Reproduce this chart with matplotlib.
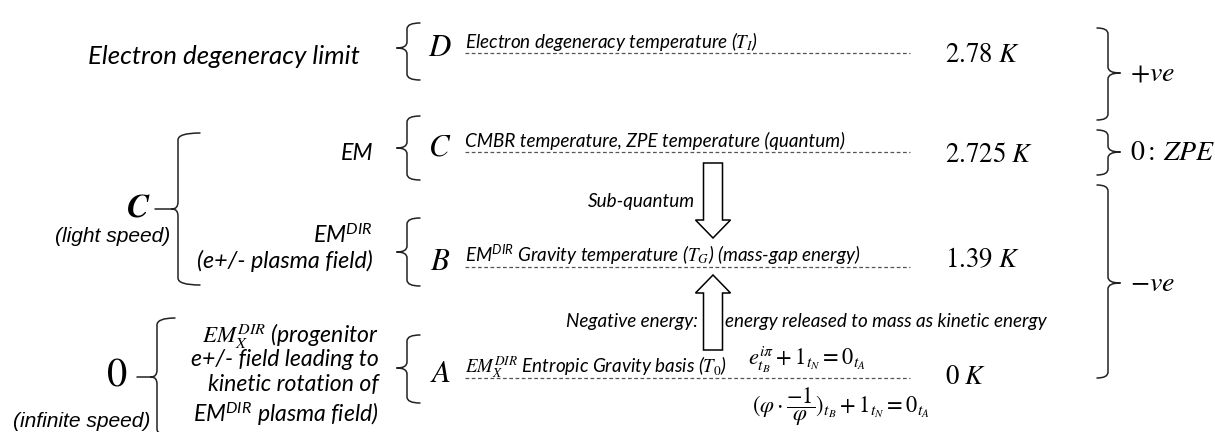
import matplotlib.pyplot as plt
from matplotlib.path import Path
from matplotlib.patches import PathPatch, FancyArrow

plt.rcParams['mathtext.fontset'] = 'stix'

# energy levels, top to bottom
level_letters = ['D', 'C', 'B', 'A']
level_labels = [
    r'Electron degeneracy temperature ($T_I$)',
    'CMBR temperature, ZPE temperature (quantum)',
    r'EM$^{\mathregular{DIR}}$ Gravity temperature ($T_G$) (mass-gap energy)',
    r'$EM_X^{DIR}$ Entropic Gravity basis ($T_0$)',
]
temperatures = [2.78, 2.725, 1.39, 0]

# field description on the left of each level
field_lines = [
    ['Electron degeneracy limit'],
    ['EM'],
    [r'EM$^{\mathregular{DIR}}$', '(e+/- plasma field)'],
    [r'$EM_X^{DIR}$ (progenitor', 'e+/- field leading to',
     'kinetic rotation of', r'EM$^{\mathregular{DIR}}$ plasma field)'],
]
speed_symbols = ['C', '0']
speed_labels = ['(light speed)', '(infinite speed)']
sign_labels = [r'$+ve$', r'$0{:}\,ZPE$', r'$-ve$']

flow_labels = ['Sub-quantum', 'Negative energy:',
               'energy released to mass as kinetic energy']
equations = [r'$e^{i\pi}_{t_B} + 1_{t_N} = 0_{t_A}$',
             r'$(\varphi \cdot \dfrac{-1}{\varphi})_{t_B} + 1_{t_N} = 0_{t_A}$']

# layout (pixels, y down)
level_y = [53, 152, 267, 378]
temp_y = [55, 155, 260, 377]
field_y = [[57], [153], [235, 261], [336, 360, 385, 414]]
field_x = [360, 373, 373, 379]
small_braces = [(23, 80, 48), (116, 180, 148), (218, 286, 252), (335, 403, 368)]
sign_braces = [(28, 120, 73), (130, 175, 152), (185, 378, 283)]

fig = plt.figure(figsize=(12.15, 4.32), dpi=100)
ax = fig.add_axes([0, 0, 1, 1])
ax.set_xlim(0, 1215)
ax.set_ylim(432, 0)
ax.axis('off')
renderer = fig.canvas.get_renderer()


def size_for(s, width, **kw):
    t = ax.text(0, 0, s, fontsize=10, **kw)
    w = t.get_window_extent(renderer).width
    t.remove()
    return 10 * width / w


def brace(x, y0, y1, ytip, d, arm, tip, ext=0, r=6, lw=1.1):
    # d=1 -> "{" (tip to the left), d=-1 -> "}"
    verts = [(x + d * arm, y0), (x, y0), (x, y0 + r),
             (x, ytip - r), (x, ytip), (x - d * tip, ytip),
             (x - d * (tip + ext), ytip),
             (x - d * tip, ytip), (x, ytip), (x, ytip + r),
             (x, y1 - r), (x, y1), (x + d * arm, y1)]
    codes = [Path.MOVETO, Path.CURVE3, Path.CURVE3,
             Path.LINETO, Path.CURVE3, Path.CURVE3,
             Path.LINETO,
             Path.MOVETO, Path.CURVE3, Path.CURVE3,
             Path.LINETO, Path.CURVE3, Path.CURVE3]
    ax.add_patch(PathPatch(Path(verts, codes), fc='none', ec='#222222',
                           lw=lw, capstyle='round'))


sans = dict(family='Lato', style='italic', color='black')
label_fs = size_for(level_labels[1], 380, **sans)
left_fs = size_for(field_lines[0][0], 272, **sans)
mid_fs = size_for(field_lines[2][1], 176, **sans)
block_fs = size_for(field_lines[3][2], 171, **sans)
big_fs = size_for(f'${temperatures[1]:g}\\ K$', 90)
sign_fs = size_for(sign_labels[0], 47)
eq_fs = size_for(equations[0], 119)

for letter, label, temp, y, ty in zip(level_letters, level_labels,
                                      temperatures, level_y, temp_y):
    ax.plot([465, 910], [y, y], ls=(0, (3, 2)), color='#555555', lw=0.9)
    ax.text(440, y - 5, f'${letter}$', fontsize=big_fs * 1.15, ha='center', va='center')
    ax.text(465, y - 5, label, fontsize=label_fs, va='baseline', **sans)
    ax.text(945, ty, f'${temp:g}\\ K$', fontsize=big_fs, va='center')

for i, (lines, ys, x) in enumerate(zip(field_lines, field_y, field_x)):
    fs = [left_fs, mid_fs, mid_fs, block_fs][i]
    for s, y in zip(lines, ys):
        ax.text(x, y, s, fontsize=fs, ha='right', va='center', **sans)

for y0, y1, yt in small_braces:
    brace(407, y0, y1, yt, 1, 13, 10)

for s, (y0, y1, yt) in zip(sign_labels, sign_braces):
    brace(1108, y0, y1, yt, -1, 11, 12)
    ax.text(1130, yt, s, fontsize=sign_fs, va='center')

# speed groups
brace(178, 133, 285, 209, 1, 22, 6, ext=17, r=7)
brace(157, 318, 436, 377, 1, 18, 6, ext=14, r=7)
ax.text(138, 210, speed_symbols[0], fontsize=24, family='STIXGeneral',
        style='italic', weight='bold', ha='center', va='center')
ax.text(117, 377, speed_symbols[1], fontsize=29, family='STIXGeneral',
        ha='center', va='center')
arial = dict(family='Liberation Sans', style='italic', color='black')
ax.text(170, 236, speed_labels[0], fontsize=mid_fs * 0.9, ha='right', va='center', **arial)
ax.text(150, 431, speed_labels[1], fontsize=mid_fs * 0.9, ha='right', va='bottom', **arial)

# energy flow between levels
ax.add_patch(FancyArrow(713, 163, 0, 75, width=19, head_width=35, head_length=18,
                        length_includes_head=True, fc='white', ec='black', lw=1.1))
ax.add_patch(FancyArrow(713, 350, 0, -75, width=19, head_width=35, head_length=18,
                        length_includes_head=True, fc='white', ec='black', lw=1.1))
ax.text(695, 202, flow_labels[0], fontsize=label_fs, ha='right', va='center', **sans)
ax.text(698, 322, flow_labels[1], fontsize=label_fs, ha='right', va='center', **sans)
ax.text(725, 322, flow_labels[2], fontsize=label_fs, va='center', **sans)
ax.text(748, 360, equations[0], fontsize=eq_fs, va='center')
ax.text(752, 407, equations[1], fontsize=eq_fs, va='center')

fig.savefig('out.png', dpi=100)
